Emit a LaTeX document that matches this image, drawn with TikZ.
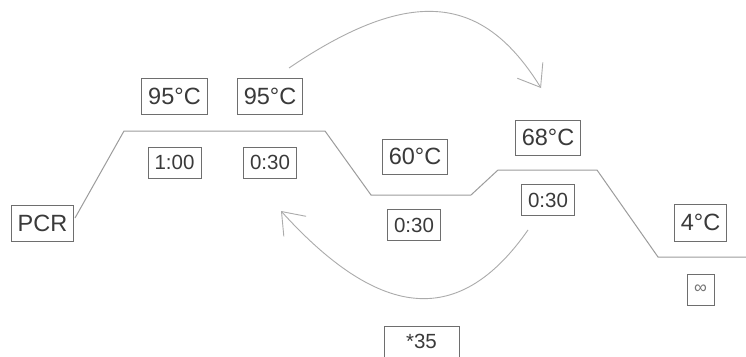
\documentclass[tikz,border=0pt]{standalone}
\usepackage{fontspec}
\setmainfont{Liberation Sans}
\usetikzlibrary{arrows.meta}
\definecolor{linec}{HTML}{9C9C9C}
\definecolor{arrc}{HTML}{ABABAB}
\definecolor{boxc}{HTML}{6E6E6E}
\definecolor{txtc}{HTML}{3A3A3A}
\begin{document}
\begin{tikzpicture}[x=1pt,y=-1pt,
  tempbox/.style={draw=boxc, line width=1pt, text=txtc, font=\fontsize{23.5}{28}\selectfont,
    inner xsep=6.5pt, inner ysep=0pt, minimum height=36pt},
  timebox/.style={draw=boxc, line width=0.9pt, text=txtc, font=\fontsize{20.5}{24}\selectfont,
    inner xsep=6.5pt, inner ysep=0pt, minimum height=31pt},
  profile/.style={draw=linec, line width=1pt},
  cycarrow/.style={draw=arrc, line width=0.9pt, -{Straight Barb[length=20pt,width=30pt,line width=0.9pt]}}]
\useasboundingbox (0,0) rectangle (746,356);
\clip (0,0) rectangle (746,356);
\fill[white] (0,0) rectangle (746,356);
% boxes
\node[tempbox] (pcr) at (42.5,223) {PCR};
\node[tempbox] (t1) at (174.5,96) {95°C};
\node[tempbox] (t2) at (270,96) {95°C};
\node[timebox] (d1) at (174.5,162.5) {1:00};
\node[timebox] (d2) at (270,162.5) {0:30};
\node[tempbox, minimum height=35pt] (t3) at (415,156.5) {60°C};
\node[timebox] (d3) at (414,225) {0:30};
\node[tempbox, minimum height=35pt] (t4) at (548,137.5) {68°C};
\node[timebox] (d4) at (548,200) {0:30};
\node[tempbox, minimum height=37pt] (t5) at (700.5,222.5) {4°C};
\node[timebox, text=txtc!70, font=\fontsize{18}{22}\selectfont, minimum width=27pt, inner xsep=4pt] (d5) at (700.5,289.5) {∞};
\node[timebox, minimum width=75pt, minimum height=31pt] (rep) at (421.5,341.5) {*35};
% profile corners
\coordinate (p0) at (75,218);
\coordinate (p1) at (124,131);
\coordinate (p2) at (325,131);
\coordinate (p3) at (371,195);
\coordinate (p4) at (471,195);
\coordinate (p5) at (498,170);
\coordinate (p6) at (597,170);
\coordinate (p7) at (658,257);
\coordinate (p8) at (746,257);
\draw[profile] (p0) -- (p1) -- (p2) -- (p3) -- (p4) -- (p5) -- (p6) -- (p7) -- (p8);
% cycle arrows
\coordinate (a0) at (289,68);
\coordinate (a1) at (541,88);
\draw[cycarrow] (a0) .. controls (413,-16) and (484,-4) .. (a1);
\coordinate (b0) at (528,230);
\coordinate (b1) at (281,211);
\draw[cycarrow] (b0) .. controls (465,320) and (388,329) .. (b1);
\end{tikzpicture}
\end{document}
